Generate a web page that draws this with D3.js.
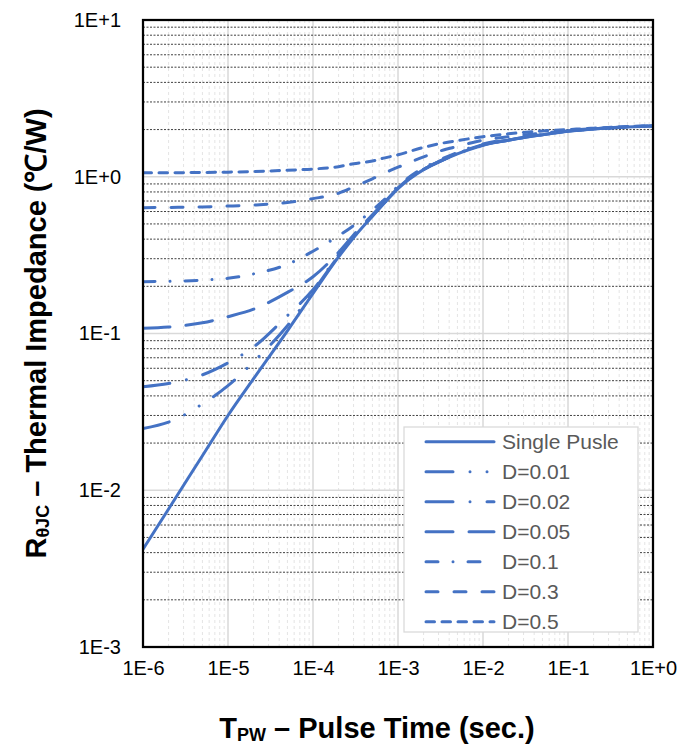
<!DOCTYPE html>
<html><head><meta charset="utf-8">
<script src="https://cdn.jsdelivr.net/npm/d3@7"></script>
<style>body{margin:0;background:#fff}svg{display:block}</style>
</head><body><svg id="c" width="699" height="747"></svg>
<script>
const times = [1e-6, 2e-6, 5e-6, 1e-5, 2e-5, 5e-5, 1e-4, 2e-4, 3e-4, 5e-4, 7e-4, 1e-3, 2e-3, 3e-3, 5e-3, 1e-2, 2e-2, 5e-2, 1e-1, 2e-1, 5e-1, 1];
const singlePulse = [0.0042, 0.0076, 0.0166, 0.030, 0.0515, 0.104, 0.18, 0.308, 0.408, 0.56, 0.685, 0.84, 1.11, 1.24, 1.40, 1.59, 1.71, 1.85, 1.95, 2.02, 2.08, 2.11];
const duty001 = [0.0248, 0.0272, 0.0355, 0.0465, 0.066, 0.112, 0.185, 0.312, 0.41, 0.562, 0.687, 0.843, 1.112, 1.242, 1.402, 1.592, 1.712, 1.852, 1.952, 2.02, 2.08, 2.11];
const duty002 = [0.0458, 0.048, 0.0545, 0.065, 0.082, 0.13, 0.19, 0.318, 0.414, 0.566, 0.69, 0.846, 1.115, 1.245, 1.405, 1.595, 1.715, 1.855, 1.955, 2.02, 2.08, 2.11];
const duty005 = [0.108, 0.110, 0.117, 0.128, 0.143, 0.183, 0.23, 0.33, 0.425, 0.572, 0.695, 0.85, 1.12, 1.25, 1.41, 1.60, 1.72, 1.86, 1.955, 2.02, 2.08, 2.11];
const duty01 = [0.214, 0.215, 0.219, 0.225, 0.24, 0.276, 0.335, 0.42, 0.488, 0.612, 0.72, 0.87, 1.14, 1.27, 1.43, 1.62, 1.73, 1.87, 1.96, 2.02, 2.08, 2.11];
const duty03 = [0.635, 0.637, 0.642, 0.65, 0.66, 0.685, 0.725, 0.785, 0.86, 0.97, 1.06, 1.15, 1.34, 1.45, 1.56, 1.71, 1.80, 1.90, 1.97, 2.03, 2.08, 2.11];
const duty05 = [1.06, 1.06, 1.065, 1.07, 1.08, 1.10, 1.12, 1.16, 1.21, 1.26, 1.32, 1.38, 1.54, 1.62, 1.70, 1.80, 1.88, 1.96, 2.00, 2.04, 2.09, 2.11];
const seriesNames = ["Single Pusle", "D=0.01", "D=0.02", "D=0.05", "D=0.1", "D=0.3", "D=0.5"];
const xTickLabels = ["1E-6", "1E-5", "1E-4", "1E-3", "1E-2", "1E-1", "1E+0"];
const yTickLabels = ["1E-3", "1E-2", "1E-1", "1E+0", "1E+1"];

const seriesValues = [singlePulse, duty001, duty002, duty005, duty01, duty03, duty05];
const dashes = [null, "27,17,0.01,17,0.01,17", "27,17,0.01,17", "27,16", "12,15,0.01,15", "12,16", "8.5,7.5"];
const color = "#4472C4";
const FONT = "'Liberation Sans', Arial, sans-serif";

const svg = d3.select("#c");
const L = 143, R = 653, T = 20, B = 647;
const x = d3.scaleLog().domain([+xTickLabels[0], +xTickLabels[xTickLabels.length-1]]).range([L, R]);
const y = d3.scaleLog().domain([+yTickLabels[0], +yTickLabels[yTickLabels.length-1]]).range([B, T]);

const g = svg.append("g");
const xMinor = [], xMajor = xTickLabels.map(Number);
for (let i = 0; i < xMajor.length - 1; i++) for (let k = 2; k <= 9; k++) xMinor.push(xMajor[i] * k);
g.selectAll(".vminor").data(xMinor).enter().append("line")
  .attr("x1", d => x(d)).attr("x2", d => x(d)).attr("y1", T).attr("y2", B)
  .attr("stroke", "#e4e4e4").attr("stroke-width", 1).attr("stroke-dasharray", "3,3");
g.selectAll(".vmajor").data(xMajor).enter().append("line")
  .attr("x1", d => x(d)).attr("x2", d => x(d)).attr("y1", T).attr("y2", B)
  .attr("stroke", "#d9d9d9").attr("stroke-width", 1.5);
const yMajor = yTickLabels.map(Number), yMinor = [];
for (let i = 0; i < yMajor.length - 1; i++) for (let k = 2; k <= 9; k++) yMinor.push(yMajor[i] * k);
g.selectAll(".hmajor").data(yMajor).enter().append("line")
  .attr("x1", L).attr("x2", R).attr("y1", d => y(d)).attr("y2", d => y(d))
  .attr("stroke", "#d9d9d9").attr("stroke-width", 1.5);
g.selectAll(".hminor").data(yMinor).enter().append("line")
  .attr("x1", L).attr("x2", R).attr("y1", d => y(d)).attr("y2", d => y(d))
  .attr("stroke", "#404040").attr("stroke-width", 1).attr("stroke-dasharray", "2,1.5");

const line = d3.line().x(d => x(d[0])).y(d => y(d[1])).curve(d3.curveMonotoneX);
svg.append("clipPath").attr("id", "pc").append("rect").attr("x", L).attr("y", T).attr("width", R - L).attr("height", B - T);
seriesValues.forEach((vals, i) => {
  svg.append("path").datum(times.map((t, j) => [t, vals[j]]))
    .attr("d", line).attr("fill", "none").attr("stroke", color)
    .attr("stroke-width", 3).attr("stroke-linecap", "round").attr("stroke-linejoin", "round")
    .attr("stroke-dasharray", dashes[i]).attr("clip-path", "url(#pc)");
});

svg.append("rect").attr("x", L).attr("y", T).attr("width", R - L).attr("height", B - T)
  .attr("fill", "none").attr("stroke", "#000").attr("stroke-width", 2.25);

const xAxis = d3.axisBottom(x).tickValues(xMajor).tickFormat((d, i) => xTickLabels[i]).tickSize(0).tickPadding(14);
const xa = svg.append("g").attr("transform", `translate(0,${B})`).call(xAxis);
xa.select(".domain").remove();
xa.selectAll("text").attr("font-family", FONT).attr("font-size", 20).attr("fill", "#000");
const yAxis = d3.axisLeft(y).tickValues(yMajor).tickFormat((d, i) => yTickLabels[i]).tickSize(0).tickPadding(22);
const ya = svg.append("g").attr("transform", `translate(${L},0)`).call(yAxis);
ya.select(".domain").remove();
ya.selectAll("text").attr("font-family", FONT).attr("font-size", 20).attr("fill", "#000");

const xt = svg.append("text").attr("x", 377).attr("y", 738).attr("text-anchor", "middle")
  .attr("font-family", FONT).attr("font-size", 29).attr("font-weight", "bold").attr("fill", "#000");
xt.append("tspan").text("T");
xt.append("tspan").attr("font-size", 18).attr("dy", 3).text("PW");
xt.append("tspan").attr("dy", -3).text(" \u2013 Pulse Time (sec.)");

const yt = svg.append("text").attr("transform", `translate(46,${(T + B) / 2}) rotate(-90)`).attr("text-anchor", "middle")
  .attr("font-family", FONT).attr("font-size", 29).attr("font-weight", "bold").attr("fill", "#000");
yt.append("tspan").text("R");
yt.append("tspan").attr("font-size", 18).attr("dy", 3).text("\u03b8JC");
yt.append("tspan").attr("dy", -3).text(" \u2013 Thermal Impedance (\u2103/W)");

const lg = svg.append("g");
lg.append("rect").attr("x", 404).attr("y", 427).attr("width", 234).attr("height", 205)
  .attr("fill", "#fff").attr("stroke", "#d9d9d9").attr("stroke-width", 1.25);
seriesNames.forEach((name, i) => {
  const yy = 441.7 + i * 30;
  lg.append("line").attr("x1", 426).attr("x2", 494).attr("y1", yy).attr("y2", yy)
    .attr("stroke", color).attr("stroke-width", 3).attr("stroke-linecap", "round")
    .attr("stroke-dasharray", dashes[i]);
  lg.append("text").attr("x", 502).attr("y", yy).attr("dy", "0.35em")
    .attr("font-family", FONT).attr("font-size", 21).attr("fill", "#595959").text(name);
});
</script>
</body></html>
